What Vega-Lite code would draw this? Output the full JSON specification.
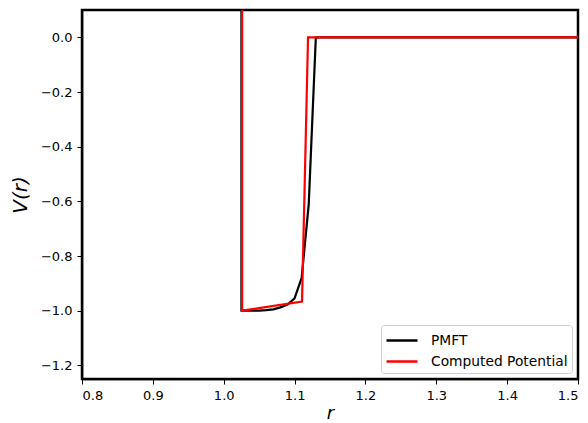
{
  "$schema": "https://vega.github.io/schema/vega-lite/v6.json",
  "width": 496,
  "height": 369,
  "autosize": "none",
  "padding": {"left": 82, "top": 10, "right": 10, "bottom": 44},
  "config": {
    "font": "DejaVu Sans",
    "view": {"stroke": "black", "strokeWidth": 2.5},
    "axis": {"grid": false, "domainColor": "black", "domainWidth": 1.5, "tickColor": "black", "labelColor": "black", "labelFontSize": 13, "titleFontSize": 18, "titleFontWeight": "normal", "titleFontStyle": "italic", "titleColor": "black", "tickSize": 5, "labelPadding": 5}
  },
  "data": {
    "values": [
      {"series": "PMFT", "i": 0, "r": 1.025, "v": 5},
      {"series": "PMFT", "i": 1, "r": 1.025, "v": -1.0},
      {"series": "PMFT", "i": 2, "r": 1.05, "v": -1.0},
      {"series": "PMFT", "i": 3, "r": 1.06, "v": -0.998},
      {"series": "PMFT", "i": 4, "r": 1.07, "v": -0.995},
      {"series": "PMFT", "i": 5, "r": 1.08, "v": -0.988},
      {"series": "PMFT", "i": 6, "r": 1.09, "v": -0.978},
      {"series": "PMFT", "i": 7, "r": 1.10, "v": -0.955},
      {"series": "PMFT", "i": 8, "r": 1.11, "v": -0.88},
      {"series": "PMFT", "i": 9, "r": 1.12, "v": -0.61},
      {"series": "PMFT", "i": 10, "r": 1.13, "v": 0.0},
      {"series": "PMFT", "i": 11, "r": 1.5, "v": 0.0},
      {"series": "Computed Potential", "i": 0, "r": 1.026, "v": 5},
      {"series": "Computed Potential", "i": 1, "r": 1.026, "v": -1.0},
      {"series": "Computed Potential", "i": 2, "r": 1.1105, "v": -0.967},
      {"series": "Computed Potential", "i": 3, "r": 1.119, "v": 0.0},
      {"series": "Computed Potential", "i": 4, "r": 1.5, "v": 0.0}
    ]
  },
  "mark": {"type": "line", "strokeWidth": 2.2, "clip": true},
  "encoding": {
    "x": {"field": "r", "type": "quantitative", "scale": {"domain": [0.8, 1.5], "nice": false, "zero": false},
      "axis": {"values": [0.8, 0.9, 1.0, 1.1, 1.2, 1.3, 1.4, 1.5], "format": ".1f", "title": "r", "titlePadding": 2}},
    "y": {"field": "v", "type": "quantitative", "scale": {"domain": [-1.25, 0.1], "nice": false, "zero": false},
      "axis": {"values": [-1.2, -1.0, -0.8, -0.6, -0.4, -0.2, 0.0], "format": ".1f", "labelExpr": "replace(datum.label, '-', '\u2212')", "title": "V(r)", "titleFontSize": 20, "titlePadding": 10}},
    "color": {"field": "series", "type": "nominal", "scale": {"domain": ["PMFT", "Computed Potential"], "range": ["black", "red"]},
      "legend": {"title": null, "orient": "bottom-right", "offset": 6, "labelFontSize": 13.8, "labelColor": "black", "symbolType": "M-1,0L2.1,0", "symbolSize": 400, "symbolStrokeWidth": 2.5, "strokeColor": "#d0d0d0", "fillColor": "white", "padding": 4, "cornerRadius": 3, "rowPadding": 2, "labelOffset": 23}},
    "order": {"field": "i", "type": "quantitative"}
  }
}
